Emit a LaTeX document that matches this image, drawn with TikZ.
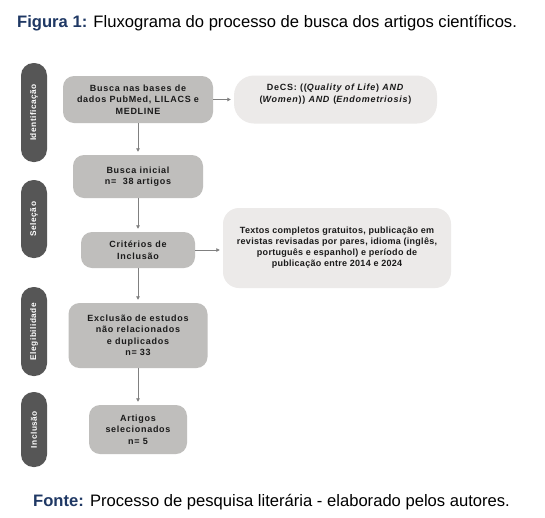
\documentclass[tikz,border=0pt]{standalone}
\usepackage{fontspec}
\setmainfont{Liberation Sans}
\newfontfamily\boxfont[LetterSpace=8]{Liberation Sans}
\newfontfamily\boxfontb[LetterSpace=3]{Liberation Sans}
\newfontfamily\sidefont[LetterSpace=6]{Liberation Sans}
\usetikzlibrary{arrows.meta}
\definecolor{midgray}{HTML}{BFBEBC}
\definecolor{lightgray2}{HTML}{ECEAE9}
\definecolor{pillgray}{HTML}{565656}
\definecolor{arrowgray}{HTML}{808080}
\definecolor{textgray}{HTML}{1A1A1A}
\definecolor{navy}{HTML}{1F3864}
\tikzset{
  box/.style={fill=midgray, rounded corners=11pt, inner sep=0pt, align=center, text=textgray,
    font={\boxfont\bfseries\fontsize{9}{11.5}\selectfont}},
  lbox/.style={box, fill=lightgray2},
  side/.style={fill=pillgray, rounded corners=12.5pt, inner sep=0pt, minimum height=26pt,
    rotate=90, text=white, font={\sidefont\bfseries\fontsize{8.3}{10}\selectfont}},
  arr/.style={draw=arrowgray, line width=0.9pt, -{Triangle[length=3.5pt,width=3.5pt]}, shorten >=3pt},
  caption/.style={anchor=base west, inner sep=0pt, font={\fontsize{16.6}{19}\selectfont}}
}
\begin{document}
\begin{tikzpicture}[x=1pt,y=-1pt]
\path[use as bounding box, fill=white] (0,0) rectangle (545,517);
\node[caption] (title) at (17,27.5) {\textcolor{navy}{\bfseries Figura 1:} Fluxograma do processo de busca dos artigos científicos.};
\node[caption] (fonte) at (33,506) {\textcolor{navy}{\bfseries Fonte:} Processo de pesquisa literária - elaborado pelos autores.};

\node[side, minimum width=99pt] (s1) at (34,112.5) {Identificação};
\node[side, minimum width=78pt] (s2) at (34,219) {Seleção};
\node[side, minimum width=89pt] (s3) at (34,331.5) {Elegibilidade};
\node[side, minimum width=75pt] (s4) at (34,429.5) {Inclusão};

\node[box, minimum width=150pt, minimum height=47pt] (b1) at (138,99.5) {Busca nas bases de\\dados PubMed, LILACS e\\MEDLINE};
\node[lbox, rounded corners=20pt, minimum width=203pt, minimum height=48pt, text depth=13pt] (decs) at (335.5,99.5) {DeCS: ((\textit{Quality of Life}) \textit{AND}\\(\textit{Women})) \textit{AND} (\textit{Endometriosis})};
\node[box, minimum width=130pt, minimum height=43pt] (b2) at (138,176.5) {Busca inicial\\n=~ 38 artigos};
\node[box, minimum width=114pt, minimum height=36pt] (b3) at (138,250) {Critérios de\\Inclusão};
\node[lbox, rounded corners=16pt, minimum width=228pt, minimum height=80pt,
  font={\boxfontb\bfseries\fontsize{9}{11}\selectfont}] (textos) at (337,248) {Textos completos gratuitos, publicação em\\revistas revisadas por pares, idioma (inglês,\\português e espanhol) e período de\\publicação entre 2014 e 2024};
\node[box, minimum width=139pt, minimum height=65pt] (b4) at (138,335.5) {Exclusão de estudos\\não relacionados\\e duplicados\\n= 33};
\node[box, minimum width=98pt, minimum height=49pt] (b5) at (138,429.5) {Artigos\\selecionados\\n= 5};

\draw[arr] (b1.east) -- (b1.east -| decs.west);
\draw[arr] (b3.east) -- (b3.east -| textos.west);
\draw[arr] (b1) -- (b2);
\draw[arr] (b2) -- (b3);
\draw[arr] (b3) -- (b4);
\draw[arr] (b4) -- (b5);
\end{tikzpicture}
\end{document}
